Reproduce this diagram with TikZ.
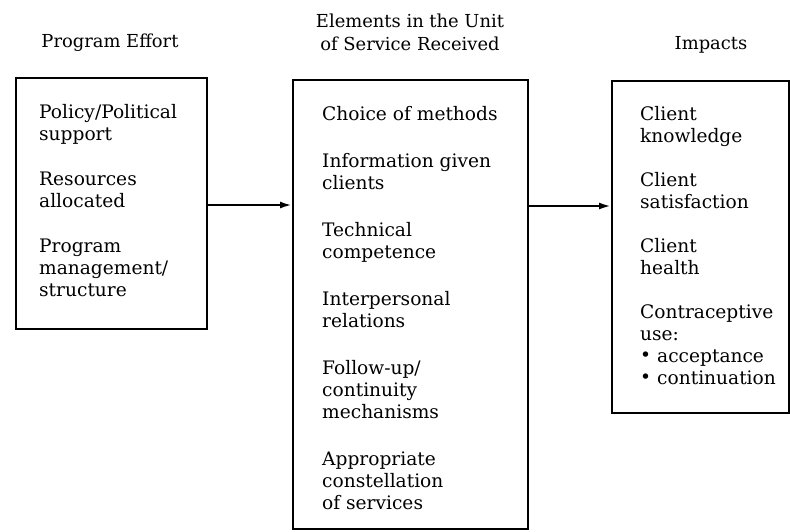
\documentclass[tikz,border=0pt]{standalone}
\usepackage{fontspec}
\setmainfont{DejaVu Serif}
\usetikzlibrary{arrows.meta}
\newlength\entrysep
\setlength\entrysep{25pt}
\newcommand\entrygap{\vskip\entrysep}
\newcommand\boxlines[1]{\vtop{\baselineskip=22pt\lineskiplimit=-10pt\lineskip=0pt #1}}
\newcommand\bul[1]{\hbox{\makebox[17pt][l]{\raisebox{0.05em}{•}}#1}}
\tikzset{
  panel/.style={draw=black, line width=1.6pt, inner sep=0pt, anchor=north west},
  body/.style={anchor=base west, inner sep=0pt, font=\fontsize{18.6}{22}\selectfont},
  head/.style={anchor=base, inner sep=0pt, align=center, font=\fontsize{17.9}{23}\selectfont},
  arr/.style={line width=2.2pt, -{Latex[length=12pt,width=7pt]}}
}
\begin{document}
\begin{tikzpicture}[x=1pt,y=-1pt]
\useasboundingbox (0,0) rectangle (790,531);
% boxes
\node[panel, minimum width=191pt, minimum height=251pt] (effort) at (15,77) {};
\node[panel, minimum width=235pt, minimum height=449pt] (elements) at (292,79) {};
\node[panel, minimum width=177pt, minimum height=332pt] (impacts) at (611,80) {};
% headings
\node[head] (h1) at (110,47) {Program Effort};
\node[head] (h2a) at (410,27) {Elements in the Unit};
\node[head] (h2b) at (410,50) {of Service Received};
\node[head] (h3) at (711,49) {Impacts};
% contents
\node[body] (t1) at (39,118) {\setlength\entrysep{23pt}\boxlines{%
  \hbox{Policy/Political}\hbox{support}\entrygap
  \hbox{Resources}\hbox{allocated}\entrygap
  \hbox{Program}\hbox{management/}\hbox{structure}}};
\node[body] (t2) at (322,120) {\boxlines{%
  \hbox{Choice of methods}\entrygap
  \hbox{Information given}\hbox{clients}\entrygap
  \hbox{Technical}\hbox{competence}\entrygap
  \hbox{Interpersonal}\hbox{relations}\entrygap
  \hbox{Follow-up/}\hbox{continuity}\hbox{mechanisms}\entrygap
  \hbox{Appropriate}\hbox{constellation}\hbox{of services}}};
\node[body] (t3) at (640,120) {\setlength\entrysep{22pt}\boxlines{%
  \hbox{Client}\hbox{knowledge}\entrygap
  \hbox{Client}\hbox{satisfaction}\entrygap
  \hbox{Client}\hbox{health}\entrygap
  \hbox{Contraceptive}\hbox{use:}\bul{acceptance}\bul{continuation}}};
% connectors
\coordinate (ya) at (0,205);
\coordinate (yb) at (0,206);
\draw[arr] (effort.east |- ya) -- (elements.west |- ya);
\draw[arr] (elements.east |- yb) -- (impacts.west |- yb);
\end{tikzpicture}
\end{document}
